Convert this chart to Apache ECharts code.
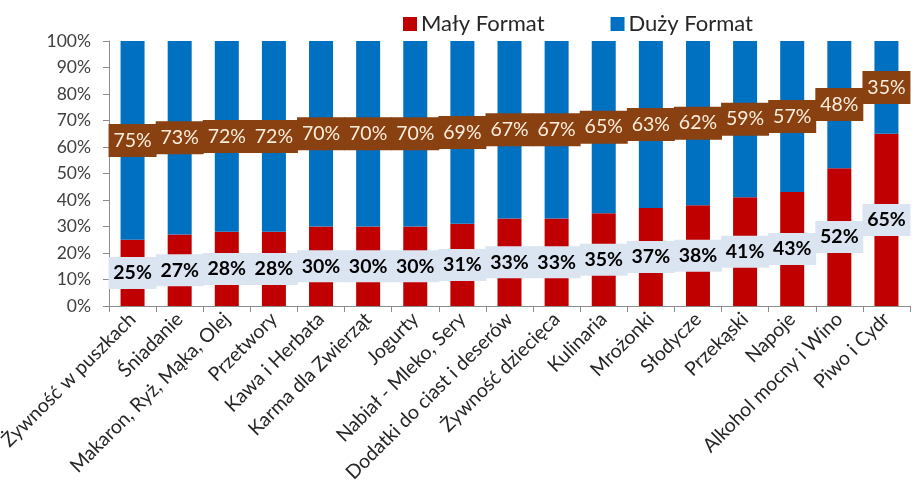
<!DOCTYPE html>
<html>
<head>
<meta charset="utf-8">
<script src="https://cdn.jsdelivr.net/npm/echarts@6/dist/echarts.min.js"></script>
<style>html,body{margin:0;padding:0;background:#fff;}#c{width:919px;height:481px;}</style>
</head>
<body>
<div id="c"></div>
<script>
const categories = ["Żywność w puszkach","Śniadanie","Makaron, Ryż, Mąka, Olej","Przetwory","Kawa i Herbata","Karma dla Zwierząt","Jogurty","Nabiał - Mleko, Sery","Dodatki do ciast i deserów","Żywność dziecięca","Kulinaria","Mrożonki","Słodycze","Przekąski","Napoje","Alkohol mocny i Wino","Piwo i Cydr"];
const malyFormat = [25,27,28,28,30,30,30,31,33,33,35,37,38,41,43,52,65];
const duzyFormat = [75,73,72,72,70,70,70,69,67,67,65,63,62,59,57,48,35];
const yTicks = [0,10,20,30,40,50,60,70,80,90,100];

const FONT = 'Lato';
const chart = echarts.init(document.getElementById('c'), null, {renderer:'canvas'});
chart.setOption({
  animation:false,
  textStyle:{fontFamily:FONT},
  legend:{
    left:398, top:8, itemWidth:14, itemHeight:14, itemGap:66,
    icon:'rect',
    textStyle:{fontFamily:FONT, fontSize:22, color:'#262626', padding:[0,0,0,-1]},
    data:['Mały Format','Duży Format']
  },
  grid:{left:109, right:9, top:41, bottom:175, containLabel:false, outerBoundsMode:'none'},
  xAxis:{
    type:'category', data:categories,
    axisLine:{lineStyle:{color:'#8c8c8c'}},
    axisTick:{show:true, length:6, lineStyle:{color:'#8c8c8c'}},
    axisLabel:{rotate:45, fontFamily:FONT, fontSize:19.5, color:'#262626', margin:10, interval:0}
  },
  yAxis:{
    type:'value', min:yTicks[0], max:yTicks[yTicks.length-1], interval:10,
    axisLine:{show:true, lineStyle:{color:'#8c8c8c'}},
    axisTick:{show:true, length:6, lineStyle:{color:'#8c8c8c'}},
    splitLine:{show:false},
    axisLabel:{formatter:'{value}%', fontFamily:FONT, fontSize:17.5, color:'#404040', margin:18}
  },
  series:[
    {
      name:'Mały Format', type:'bar', stack:'s', data:malyFormat, barWidth:24,
      itemStyle:{color:'#c00000'},
      label:{show:true, position:'inside', formatter:'{c}%', fontFamily:FONT, fontWeight:'bold', fontSize:19.5,
        color:'#000', backgroundColor:'#dbe5f1', width:48, height:32, lineHeight:32, align:'center', verticalAlign:'middle'}
    },
    {
      name:'Duży Format', type:'bar', stack:'s', data:duzyFormat, barWidth:24,
      itemStyle:{color:'#0070c0'},
      label:{show:true, position:'inside', formatter:'{c}%', fontFamily:FONT, fontSize:19.5,
        color:'#fbeedd', backgroundColor:'#8a4112', width:48, height:33, lineHeight:33, align:'center', verticalAlign:'middle'}
    }
  ]
});
</script>
</body>
</html>
